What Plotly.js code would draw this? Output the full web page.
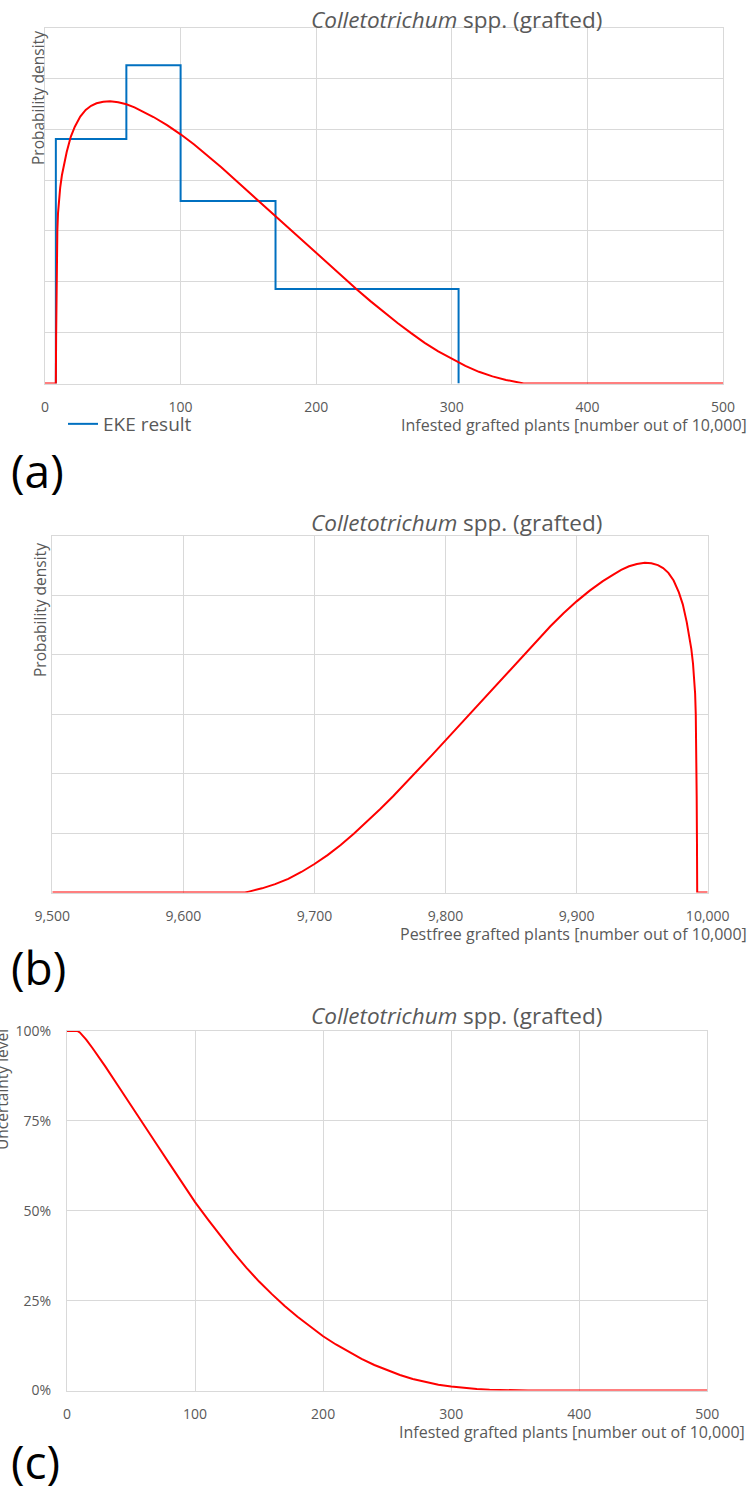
<!DOCTYPE html>
<html>
<head>
<meta charset="utf-8">
<script src="https://cdn.plot.ly/plotly-3.0.1.min.js"></script>
<style>html,body{margin:0;padding:0;background:#fff;}#chart{width:751px;height:1488px;}</style>
</head>
<body>
<div id="chart"></div>
<script>
// ---------- data ----------
// (a) infested grafted plants: fitted probability density
var infestedX = [0, 8, 8.2, 8.4, 8.7, 9.1, 9.6, 10.3, 11.2, 12.5, 14, 16, 19, 22, 26, 30, 34, 38, 43, 48, 54, 60, 66, 72, 80, 90, 100, 110, 120, 130, 140, 150, 160, 170, 180, 190, 200, 210, 220, 230, 240, 250, 260, 270, 280, 290, 300, 310, 320, 330, 340, 345, 350, 353, 500];
var infestedDensity = [0, 0, 0.0009, 0.0016, 0.0025, 0.003, 0.00335, 0.0036, 0.00385, 0.0041, 0.0043, 0.00455, 0.00485, 0.00505, 0.00525, 0.00538, 0.00546, 0.00551, 0.00554, 0.00555, 0.00553, 0.00549, 0.00543, 0.00535, 0.00524, 0.00508, 0.0049, 0.0047, 0.00448, 0.00425, 0.00401, 0.00377, 0.00352, 0.00328, 0.00304, 0.0028, 0.00256, 0.00232, 0.00208, 0.00185, 0.00162, 0.0014, 0.00119, 0.00099, 0.0008, 0.00063, 0.00048, 0.000345, 0.00023, 0.00014, 0.00007, 0.00004, 0.000015, 0, 0];
// (a) EKE result: bin edges and densities
var ekeEdges = [8, 60, 100, 170, 305];
var ekeDensity = [0.00481, 0.00626, 0.00359, 0.00186];
// (b) pest-free grafted plants: probability density
var pestfreeX = [9500, 9647, 9650, 9655, 9660, 9670, 9680, 9690, 9700, 9710, 9720, 9730, 9740, 9750, 9760, 9770, 9780, 9790, 9800, 9810, 9820, 9830, 9840, 9850, 9860, 9870, 9880, 9890, 9900, 9910, 9920, 9928, 9934, 9940, 9946, 9952, 9957, 9962, 9966, 9970, 9974, 9978, 9981, 9984, 9986, 9987.5, 9988.8, 9989.7, 9990.4, 9990.9, 9991.3, 9991.6, 9991.8, 9992, 10000];
var pestfreeDensity = [0, 0, 0.000015, 0.00004, 0.00007, 0.00014, 0.00023, 0.000345, 0.00048, 0.00063, 0.0008, 0.00099, 0.00119, 0.0014, 0.00162, 0.00185, 0.00208, 0.00232, 0.00256, 0.0028, 0.00304, 0.00328, 0.00352, 0.00377, 0.00401, 0.00425, 0.00448, 0.0047, 0.0049, 0.00508, 0.00524, 0.00535, 0.00543, 0.00549, 0.00553, 0.00555, 0.00554, 0.00551, 0.00546, 0.00538, 0.00525, 0.00505, 0.00485, 0.00455, 0.0043, 0.0041, 0.00385, 0.0036, 0.00335, 0.003, 0.0025, 0.0016, 0.0009, 0, 0];
// (c) uncertainty level (exceedance)
var uncertX = [0, 8, 10, 12.5, 15, 20, 25, 30, 40, 50, 60, 70, 80, 90, 100, 110, 120, 130, 140, 150, 160, 170, 180, 190, 200, 210, 220, 230, 240, 250, 260, 270, 280, 290, 300, 310, 320, 330, 340, 350, 360, 500];
var uncertLevel = [1, 1, 0.996, 0.987, 0.976, 0.952, 0.927, 0.901, 0.847, 0.792, 0.739, 0.685, 0.631, 0.577, 0.524, 0.476, 0.429, 0.384, 0.342, 0.303, 0.268, 0.235, 0.205, 0.177, 0.151, 0.128, 0.107, 0.088, 0.071, 0.056, 0.043, 0.032, 0.023, 0.016, 0.011, 0.007, 0.004, 0.002, 0.0008, 0.0002, 0, 0];
// text
var titleText = '<i>Colletotrichum</i> spp. (grafted)';
var infestedLabel = 'Infested grafted plants [number out of 10,000]';
var pestfreeLabel = 'Pestfree grafted plants [number out of 10,000]';
var densityLabel = 'Probability density';
var uncertLabel = 'Uncertainty level';
var legendLabel = 'EKE result';
var panelLabels = ['(a)', '(b)', '(c)'];

// ---------- layout helpers ----------
var W = 751, H = 1488;
function px(x) { return x / W; }
function py(y) { return 1 - y / H; }
var GREY = '#595959', GRID = '#d9d9d9', FONT = 'Open Sans, Liberation Sans, sans-serif';

// step line for EKE bins
var stepX = [ekeEdges[0]].concat(ekeEdges).concat([ekeEdges[ekeEdges.length - 1]]);
var stepY = [0].concat(ekeDensity).concat([ekeDensity[ekeDensity.length - 1], 0]);

var traces = [
  {x: stepX, y: stepY, type: 'scatter', mode: 'lines', line: {shape: 'hv', color: '#0070c0', width: 2},
   name: legendLabel, showlegend: true, cliponaxis: false, xaxis: 'x', yaxis: 'y', hoverinfo: 'skip'},
  {x: infestedX, y: infestedDensity, type: 'scatter', mode: 'lines', line: {color: '#ff0000', width: 2},
   showlegend: false, cliponaxis: false, xaxis: 'x', yaxis: 'y'},
  {x: pestfreeX, y: pestfreeDensity, type: 'scatter', mode: 'lines', line: {color: '#ff0000', width: 2},
   showlegend: false, cliponaxis: false, xaxis: 'x2', yaxis: 'y2'},
  {x: uncertX, y: uncertLevel, type: 'scatter', mode: 'lines', line: {color: '#ff0000', width: 2},
   showlegend: false, cliponaxis: false, xaxis: 'x3', yaxis: 'y3'}
];

function xax(domain, range, extra) {
  var a = {domain: domain, range: range, dtick: 100, tick0: range[0], showgrid: true, gridcolor: GRID, gridwidth: 1,
    showline: true, linecolor: GRID, linewidth: 1, mirror: true, zeroline: false, ticks: '',
    tickfont: {family: FONT, size: 14, color: GREY}, ticklabelstandoff: 11, layer: 'below traces', fixedrange: true};
  for (var k in extra) a[k] = extra[k];
  return a;
}
function yax(domain, range, dtick, extra) {
  var a = {domain: domain, range: range, dtick: dtick, tick0: 0, showgrid: true, gridcolor: GRID, gridwidth: 1,
    showline: true, linecolor: GRID, linewidth: 1, mirror: true, zeroline: false, ticks: '',
    showticklabels: false, layer: 'below traces', fixedrange: true};
  for (var k in extra) a[k] = extra[k];
  return a;
}

var ann = [];
function addText(text, x, y, size, opts) {
  var a = {text: text, xref: 'paper', yref: 'paper', x: px(x), y: py(y), showarrow: false,
    xanchor: 'center', yanchor: 'middle', font: {family: FONT, size: size, color: GREY}};
  for (var k in opts) a[k] = opts[k];
  ann.push(a);
}
// titles
addText(titleText, 456, 19, 22.5);
addText(titleText, 456, 522, 22.5);
addText(titleText, 456, 1016, 22.5);
// y axis titles
addText(densityLabel, 38, 98, 15.5, {textangle: -90});
addText(densityLabel, 40, 610, 15.5, {textangle: -90});
addText(uncertLabel, 2, 1090, 15.5, {textangle: -90});
// x axis titles
addText(infestedLabel, 749, 425, 16, {xanchor: 'right'});
addText(pestfreeLabel, 749, 934, 16, {xanchor: 'right'});
addText(infestedLabel, 747, 1432, 16, {xanchor: 'right'});
// panel labels
var PL = {family: FONT, size: 46, color: '#000'};
addText(panelLabels[0], 9, 470, 46, {xanchor: 'left', font: PL});
addText(panelLabels[1], 9, 967, 46, {xanchor: 'left', font: PL});
addText(panelLabels[2], 9, 1461, 46, {xanchor: 'left', font: PL});

var layout = {
  width: W, height: H, margin: {l: 0, r: 0, t: 0, b: 0}, paper_bgcolor: '#fff', plot_bgcolor: '#fff',
  showlegend: true,
  legend: {x: px(63), y: py(424), xanchor: 'left', yanchor: 'middle', bgcolor: 'rgba(0,0,0,0)',
    font: {family: FONT, size: 19, color: GREY}, itemwidth: 30, borderwidth: 0},
  xaxis: xax([px(45), px(723)], [0, 500], {anchor: 'y'}),
  yaxis: yax([py(383.5), py(27.5)], [0, 0.007], 0.001, {anchor: 'x'}),
  xaxis2: xax([px(52.3), px(707.7)], [9500, 10000], {anchor: 'y2', tickformat: ',d'}),
  yaxis2: yax([py(892.5), py(536)], [0, 0.006], 0.001, {anchor: 'x2'}),
  xaxis3: xax([px(67), px(707.3)], [0, 500], {anchor: 'y3'}),
  yaxis3: yax([py(1390.5), py(1031)], [0, 1], 0.25, {anchor: 'x3', showticklabels: true, tickformat: '.0%',
    tickfont: {family: FONT, size: 14, color: GREY}, ticklabelstandoff: 12}),
  annotations: ann
};

Plotly.newPlot('chart', traces, layout, {staticPlot: true, displayModeBar: false});
</script>
</body>
</html>
